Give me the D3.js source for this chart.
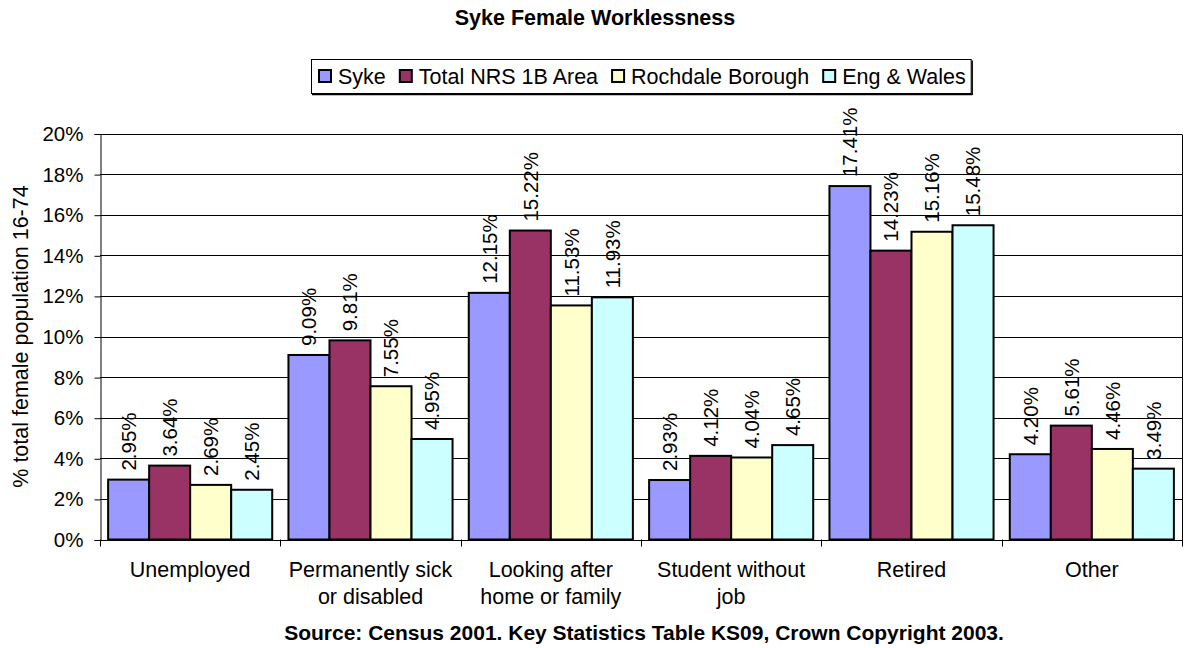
<!DOCTYPE html>
<html>
<head>
<meta charset="utf-8">
<script src="https://cdn.jsdelivr.net/npm/d3@7"></script>
<style>
  html, body { margin: 0; padding: 0; background: #fff; }
  svg { display: block; font-family: "Liberation Sans", Arial, sans-serif; }
</style>
</head>
<body>
<svg id="chart" width="1186" height="648"></svg>
<script>
const categories = [
  ["Unemployed"],
  ["Permanently sick", "or disabled"],
  ["Looking after", "home or family"],
  ["Student without", "job"],
  ["Retired"],
  ["Other"]
];
const seriesNames = ["Syke", "Total NRS 1B Area", "Rochdale Borough", "Eng & Wales"];
const sykeValues      = [2.95, 9.09, 12.15, 2.93, 17.41, 4.20];
const nrsValues       = [3.64, 9.81, 15.22, 4.12, 14.23, 5.61];
const rochdaleValues  = [2.69, 7.55, 11.53, 4.04, 15.16, 4.46];
const engWalesValues  = [2.45, 4.95, 11.93, 4.65, 15.48, 3.49];
const seriesColors = ["#9999FF", "#993366", "#FFFFCC", "#CCFFFF"];
const yTicks = [0, 2, 4, 6, 8, 10, 12, 14, 16, 18, 20];
const titleText = "Syke Female Worklessness";
const yTitle = "% total female population 16-74";
const sourceText = "Source: Census 2001. Key Statistics Table KS09, Crown Copyright 2003.";

(function () {
const seriesValues = [sykeValues, nrsValues, rochdaleValues, engWalesValues];
const svg = d3.select("#chart");

const pL = 100, pR = 1182, pT = 133.5, pB = 539.5;
const catIdx = categories.map((d, i) => i);
const x0 = d3.scaleBand().domain(catIdx).range([pL, pR]).paddingInner(0.09).paddingOuter(0.045);
const x1 = d3.scaleBand().domain(d3.range(seriesNames.length)).range([0, x0.bandwidth()]);
const y = d3.scaleLinear().domain([0, 20]).range([pB, pT]);

// Title
svg.append("text").attr("x", 595).attr("y", 25).attr("text-anchor", "middle")
  .attr("font-size", 21.5).attr("font-weight", "bold").text(titleText);

// Gridlines
svg.append("g").selectAll("line").data(yTicks.filter(d => d > 0)).join("line")
  .attr("x1", pL).attr("x2", pR)
  .attr("y1", d => Math.round(y(d)) + 0.5).attr("y2", d => Math.round(y(d)) + 0.5)
  .attr("stroke", "#000").attr("stroke-width", 1);
// right border
svg.append("line").attr("x1", pR + 0.5).attr("x2", pR + 0.5)
  .attr("y1", Math.round(y(20)) + 0.5).attr("y2", Math.round(y(0)) + 0.5)
  .attr("stroke", "#000");

// Bars
const groups = svg.append("g").selectAll("g").data(catIdx).join("g")
  .attr("transform", d => `translate(${x0(d)},0)`);
groups.selectAll("rect").data(ci => seriesValues.map((vals, si) => ({si, v: vals[ci]}))).join("rect")
  .attr("x", d => x1(d.si))
  .attr("y", d => y(d.v))
  .attr("width", x1.bandwidth())
  .attr("height", d => y(0) - y(d.v))
  .attr("fill", d => seriesColors[d.si])
  .attr("stroke", "#000").attr("stroke-width", 2);

// Value labels
groups.selectAll("text").data(ci => seriesValues.map((vals, si) => ({si, v: vals[ci]}))).join("text")
  .attr("transform", d => `translate(${x1(d.si) + x1.bandwidth() / 2},${y(d.v) - 9}) rotate(-90)`)
  .attr("dy", "0.36em")
  .attr("font-size", 20.5)
  .attr("text-anchor", "start")
  .text(d => d.v.toFixed(2) + "%");

// Y axis
const yAxis = d3.axisLeft(y).tickValues(yTicks).tickFormat(d => d + "%").tickSize(6).tickPadding(11);
const yg = svg.append("g").attr("transform", `translate(${pL + 0.5},0.5)`).call(yAxis);
yg.select(".domain").attr("stroke", "#000");
yg.selectAll("text").attr("font-size", 20.5).attr("fill", "#000").attr("font-family", "Liberation Sans, Arial, sans-serif");

// X axis (category boundaries)
const boundaries = d3.range(categories.length + 1).map(i => pL + i * x0.step());
svg.append("line").attr("x1", pL).attr("x2", pR + 0.5)
  .attr("y1", Math.round(pB) + 0.5).attr("y2", Math.round(pB) + 0.5).attr("stroke", "#000");
svg.append("g").selectAll("line").data(boundaries).join("line")
  .attr("x1", d => Math.round(d) + 0.5).attr("x2", d => Math.round(d) + 0.5)
  .attr("y1", pB).attr("y2", pB + 7).attr("stroke", "#000");

// Category labels
const cl = svg.append("g").selectAll("text").data(catIdx).join("text")
  .attr("x", d => x0(d) + x0.bandwidth() / 2)
  .attr("y", 577).attr("text-anchor", "middle").attr("font-size", 21.5);
cl.selectAll("tspan").data(d => categories[d].map((t, i) => ({t, i}))).join("tspan")
  .attr("x", function() { return this.parentNode.getAttribute("x"); })
  .attr("dy", d => d.i === 0 ? 0 : 27)
  .text(d => d.t);

// Y title
svg.append("text").attr("transform", `translate(28,${(pT + pB) / 2}) rotate(-90)`)
  .attr("text-anchor", "middle").attr("font-size", 21.5).text(yTitle);

// Source
svg.append("text").attr("x", 644).attr("y", 640).attr("text-anchor", "middle")
  .attr("font-size", 21).attr("font-weight", "bold").text(sourceText);

// Legend
const legX = 311, legY = 59.5, legH = 34;
const lg = svg.append("g");
const box = lg.append("rect").attr("x", legX + 0.5).attr("y", legY).attr("height", legH)
  .attr("fill", "#fff").attr("stroke", "#000");
let cx = legX + 8;
const swatch = 12, gapSw = 7, gapItem = 14;
seriesNames.forEach((name, i) => {
  lg.append("rect").attr("x", cx).attr("y", legY + 10.5).attr("width", swatch).attr("height", swatch)
    .attr("fill", seriesColors[i]).attr("stroke", "#000").attr("stroke-width", 2);
  const t = lg.append("text").attr("x", cx + swatch + gapSw).attr("y", legY + 24)
    .attr("font-size", 21.5).text(name);
  cx += swatch + gapSw + t.node().getComputedTextLength() + gapItem;
});
const legW = cx - gapItem + 5 - legX;
box.attr("width", legW);
lg.append("line").attr("x1", legX + 1).attr("x2", legX + legW + 1.5).attr("y1", legY + legH + 1).attr("y2", legY + legH + 1).attr("stroke", "#000").attr("stroke-width", 1.5);
lg.append("line").attr("x1", legX + legW + 1.5).attr("x2", legX + legW + 1.5).attr("y1", legY + 1).attr("y2", legY + legH + 1.5).attr("stroke", "#000").attr("stroke-width", 1.5);
})();
</script>
</body>
</html>
